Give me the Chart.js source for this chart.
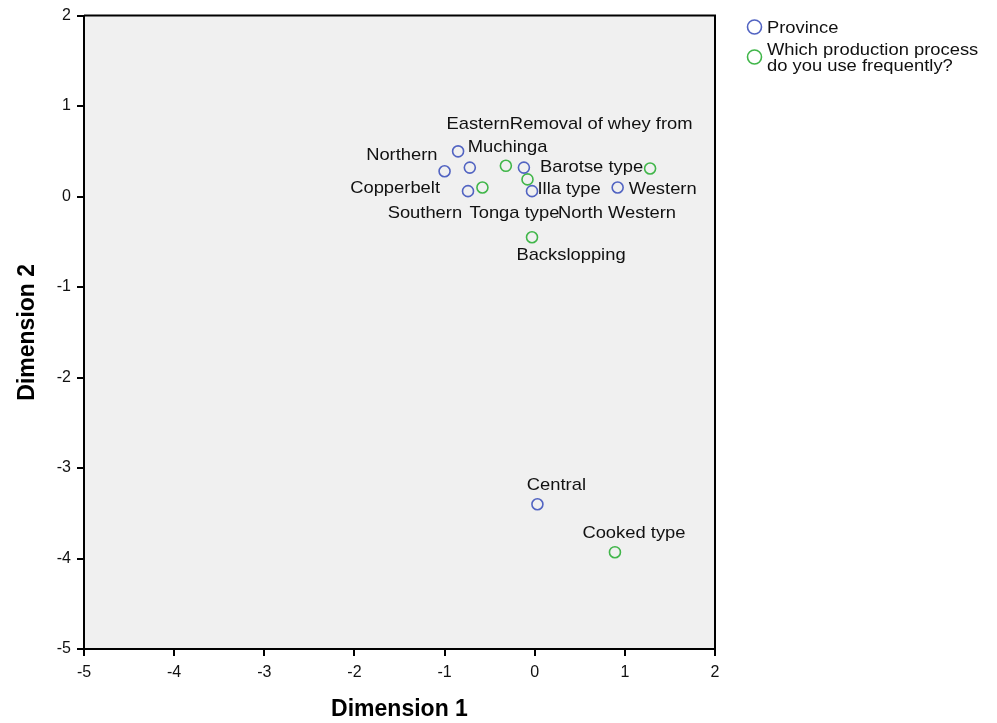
<!DOCTYPE html>
<html>
<head>
<meta charset="utf-8">
<title>Joint plot of category points</title>
<script src="https://cdn.jsdelivr.net/npm/chart.js@4/dist/chart.umd.min.js"></script>
<style>
  html, body { margin: 0; padding: 0; background: #ffffff; }
  #wrap { width: 997px; height: 723px; }
</style>
</head>
<body>
<div id="wrap"><canvas id="plot" width="997" height="723"></canvas></div>
<script>
// Category quantifications (Dimension 1, Dimension 2)
const provinceNames = ['Eastern', 'Muchinga', 'Northern', 'Copperbelt', 'Southern', 'North Western', 'Western', 'Central'];
const provinceDim1  = [-0.85, -0.72, -1.00, -0.74, -0.12, -0.03, 0.92, 0.03];
const provinceDim2  = [ 0.50,  0.32,  0.28,  0.06,  0.32,  0.06, 0.10, -3.40];

const processNames = ['Removal of whey from', 'Barotse type', 'Tonga type', 'Illa type', 'Backslopping', 'Cooked type'];
const processDim1  = [-0.32, 1.28, -0.58, -0.08, -0.03, 0.89];
const processDim2  = [ 0.34, 0.31,  0.10,  0.19, -0.45, -3.93];

const axisTicks = [-5, -4, -3, -2, -1, 0, 1, 2];

const legendTitles = [['Province'], ['Which production process', 'do you use frequently?']];

// Label placement around each marker: pixel offset from the marker and text alignment
const labelLayout = {
  'Eastern':              { dx: 20,  dy: -27, align: 'center' },
  'Muchinga':             { dx: -2,  dy: -20, align: 'left' },
  'Northern':             { dx: -7,  dy: -16, align: 'right' },
  'Copperbelt':           { dx: -28, dy: -3,  align: 'right' },
  'Southern':             { dx: -99, dy: 46,  align: 'center' },
  'North Western':        { dx: 85,  dy: 22,  align: 'center' },
  'Western':              { dx: 11,  dy: 2,   align: 'left' },
  'Central':              { dx: 19,  dy: -19, align: 'center' },
  'Removal of whey from': { dx: 4,   dy: -41, align: 'left' },
  'Barotse type':         { dx: -7,  dy: -1,  align: 'right' },
  'Tonga type':           { dx: 32,  dy: 26,  align: 'center' },
  'Illa type':            { dx: 10,  dy: 10,  align: 'left' },
  'Backslopping':         { dx: 39,  dy: 18,  align: 'center' },
  'Cooked type':          { dx: 19,  dy: -19, align: 'center' }
};

const BLUE = '#5264c2';
const GREEN = '#41b64a';
const FONT = '"Liberation Sans", Arial, Helvetica, sans-serif';
const TEXT_STRETCH = 1.08;

function toPoints(xs, ys, names) {
  return xs.map((x, i) => ({ x: x, y: ys[i], label: names[i] }));
}

// Text drawn slightly widened, as in the original export
function stretchedText(ctx, text, x, y, align) {
  const w = ctx.measureText(text).width * TEXT_STRETCH;
  let left = x;
  if (align === 'center') left = x - w / 2;
  else if (align === 'right') left = x - w;
  ctx.save();
  ctx.translate(left, y);
  ctx.scale(TEXT_STRETCH, 1);
  ctx.textAlign = 'left';
  ctx.fillText(text, 0, 0);
  ctx.restore();
}

const plotBackground = {
  id: 'plotBackground',
  beforeDraw(chart) {
    const { ctx, chartArea: a } = chart;
    ctx.save();
    ctx.fillStyle = '#f0f0f0';
    ctx.fillRect(a.left, a.top, a.right - a.left, a.bottom - a.top);
    ctx.restore();
  },
  afterDraw(chart) {
    const { ctx, chartArea: a } = chart;
    ctx.save();
    ctx.strokeStyle = '#000000';
    ctx.lineWidth = 2;
    ctx.beginPath();
    ctx.moveTo(a.left, a.top);
    ctx.lineTo(a.right, a.top);
    ctx.lineTo(a.right, a.bottom);
    ctx.stroke();
    ctx.restore();
  }
};

const pointLabels = {
  id: 'pointLabels',
  afterDatasetsDraw(chart) {
    const ctx = chart.ctx;
    ctx.save();
    ctx.font = '17px ' + FONT;
    ctx.fillStyle = '#111111';
    ctx.textBaseline = 'middle';
    chart.data.datasets.forEach((ds, di) => {
      const meta = chart.getDatasetMeta(di);
      meta.data.forEach((el, i) => {
        const name = ds.data[i].label;
        const lay = labelLayout[name] || { dx: 8, dy: 0, align: 'left' };
        stretchedText(ctx, name, el.x + lay.dx, el.y + lay.dy, lay.align);
      });
    });
    ctx.restore();
  }
};

const sideLegend = {
  id: 'sideLegend',
  afterDraw(chart) {
    const ctx = chart.ctx;
    const colors = [BLUE, GREEN];
    const entries = [{ cx: 754.5, cy: 27, ty: 28 }, { cx: 754.5, cy: 57, ty: 50 }];
    ctx.save();
    ctx.font = '17px ' + FONT;
    ctx.fillStyle = '#111111';
    ctx.textBaseline = 'middle';
    entries.forEach((e, i) => {
      ctx.beginPath();
      ctx.lineWidth = 1.6;
      ctx.strokeStyle = colors[i];
      ctx.arc(e.cx, e.cy, 7, 0, Math.PI * 2);
      ctx.stroke();
      legendTitles[i].forEach((line, k) => {
        stretchedText(ctx, line, 767, e.ty + k * 16, 'left');
      });
    });
    ctx.restore();
  }
};

const tickFont = { family: FONT, size: 16 };
const titleFont = { family: FONT, size: 23, weight: 'bold' };

new Chart(document.getElementById('plot'), {
  type: 'scatter',
  data: {
    datasets: [
      {
        label: 'Province',
        data: toPoints(provinceDim1, provinceDim2, provinceNames),
        pointStyle: 'circle',
        pointRadius: 5.5,
        pointHoverRadius: 5.5,
        backgroundColor: 'rgba(0,0,0,0)',
        borderColor: BLUE,
        borderWidth: 1.6
      },
      {
        label: 'Which production process do you use frequently?',
        data: toPoints(processDim1, processDim2, processNames),
        pointStyle: 'circle',
        pointRadius: 5.5,
        pointHoverRadius: 5.5,
        backgroundColor: 'rgba(0,0,0,0)',
        borderColor: GREEN,
        borderWidth: 1.6
      }
    ]
  },
  options: {
    responsive: false,
    animation: false,
    events: [],
    layout: { padding: { top: 15, right: 282, left: 0, bottom: 0 } },
    plugins: {
      legend: { display: false },
      tooltip: { enabled: false }
    },
    scales: {
      x: {
        type: 'linear',
        min: axisTicks[0],
        max: axisTicks[axisTicks.length - 1],
        afterBuildTicks(scale) { scale.ticks = axisTicks.map(v => ({ value: v })); },
        afterFit(scale) { scale.height = 74; },
        ticks: { color: '#111111', font: tickFont, padding: 7, maxRotation: 0 },
        grid: { drawOnChartArea: false, drawTicks: true, tickLength: 7, color: '#000000', lineWidth: 2 },
        border: { display: true, color: '#000000', width: 2 },
        title: { display: true, text: 'Dimension 1', color: '#000000', font: titleFont, padding: { top: 0, bottom: 0 } }
      },
      y: {
        type: 'linear',
        min: axisTicks[0],
        max: axisTicks[axisTicks.length - 1],
        afterBuildTicks(scale) { scale.ticks = axisTicks.map(v => ({ value: v })); },
        afterFit(scale) { scale.width = 84; },
        ticks: { color: '#111111', font: tickFont, padding: 6 },
        grid: { drawOnChartArea: false, drawTicks: true, tickLength: 7, color: '#000000', lineWidth: 2 },
        border: { display: true, color: '#000000', width: 2 },
        title: { display: true, text: 'Dimension 2', color: '#000000', font: titleFont, padding: { top: 14, bottom: 0 } }
      }
    }
  },
  plugins: [plotBackground, pointLabels, sideLegend]
});
</script>
</body>
</html>
